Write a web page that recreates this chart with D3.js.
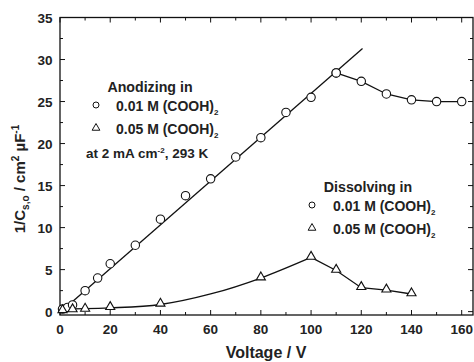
<!DOCTYPE html>
<html>
<head>
<meta charset="utf-8">
<script src="https://cdn.jsdelivr.net/npm/d3@7"></script>
<style>
  body { margin: 0; background: #fff; }
  svg text { font-family: "Liberation Sans", Arial, sans-serif; font-weight: bold; fill: #222; }
</style>
</head>
<body>
<script>
// anodizing in 0.01 M (circles)
const anodV1 = [1, 3, 5, 10, 15, 20, 30, 40, 50, 60, 70, 80, 90, 100, 110];
const anodY1 = [0.3, 0.5, 0.8, 2.5, 4.0, 5.7, 7.9, 11.0, 13.8, 15.8, 18.4, 20.7, 23.7, 25.5, 28.4];
// dissolving in 0.01 M (circles)
const dissV1 = [110, 120, 130, 140, 150, 160];
const dissY1 = [28.4, 27.4, 25.9, 25.2, 25.0, 25.0];
// anodizing in 0.05 M (triangles)
const anodV2 = [1, 5, 10, 20, 40];
const anodY2 = [0.1, 0.2, 0.27, 0.47, 0.87];
// dissolving in 0.05 M (triangles)
const dissV2 = [80, 100, 110, 120, 130, 140];
const dissY2 = [4.0, 6.45, 4.9, 2.85, 2.55, 2.1];
// linear fit (0.01 M) and smooth guide (0.05 M)
const fitV1 = [0, 120.5];
const fitY1 = [-0.1, 31.3];
const fitV2 = [0, 10, 20, 40, 60, 80, 100];
const fitY2 = [0.3, 0.35, 0.45, 0.85, 2.1, 4.0, 6.45];

const xTicks = [0, 20, 40, 60, 80, 100, 120, 140, 160];
const yTicks = [0, 5, 10, 15, 20, 25, 30, 35];

const W = 474, H = 362;
const svg = d3.select("body").append("svg").attr("width", W).attr("height", H);

const x = d3.scaleLinear().domain([0, 164.5]).range([60, 473]);
const y = d3.scaleLinear().domain([-0.4, 35]).range([315, 17.5]);

const zip = (a, b) => a.map((v, i) => [v, b[i]]);

// frame
svg.append("rect")
    .attr("x", x(0)).attr("y", y(35))
    .attr("width", x(164.5) - x(0)).attr("height", y(-0.4) - y(35))
    .attr("fill", "none").attr("stroke", "#111").attr("stroke-width", 1.3);

// ticks (inward) on all four sides
const xMinor = d3.range(10, 170, 20);
const yMinor = d3.range(2.5, 35, 5);
function ticks(vals, len, axis) {
    vals.forEach(v => {
        if (axis === "x") {
            svg.append("line").attr("x1", x(v)).attr("x2", x(v)).attr("y1", y(-0.4)).attr("y2", y(-0.4) - len).attr("stroke", "#111");
            svg.append("line").attr("x1", x(v)).attr("x2", x(v)).attr("y1", y(35)).attr("y2", y(35) + len).attr("stroke", "#111");
        } else {
            svg.append("line").attr("y1", y(v)).attr("y2", y(v)).attr("x1", x(0)).attr("x2", x(0) + len).attr("stroke", "#111");
            svg.append("line").attr("y1", y(v)).attr("y2", y(v)).attr("x1", x(164.5)).attr("x2", x(164.5) - len).attr("stroke", "#111");
        }
    });
}
ticks(xTicks, 5, "x");
ticks(xMinor, 3, "x");
ticks(yTicks.filter(v => v < 35), 5, "y");
ticks(yMinor, 3, "y");

// tick labels
svg.append("g").selectAll("text").data(xTicks).join("text")
    .attr("x", d => x(d)).attr("y", 334)
    .attr("text-anchor", "middle").attr("font-size", 13.5)
    .text(d => d);
svg.append("g").selectAll("text").data(yTicks).join("text")
    .attr("x", 52.5).attr("y", d => y(d) + 5)
    .attr("text-anchor", "end").attr("font-size", 13.5)
    .text(d => d);

// axis titles
svg.append("text").attr("x", 266).attr("y", 358)
    .attr("text-anchor", "middle").attr("font-size", 16)
    .text("Voltage / V");

const yt = svg.append("text")
    .attr("transform", "translate(25,179) rotate(-90)")
    .attr("text-anchor", "middle").attr("font-size", 15);
yt.append("tspan").text("1/C");
yt.append("tspan").attr("dy", 4).attr("font-size", 10).text("s,o");
yt.append("tspan").attr("dy", -4).text(" / cm");
yt.append("tspan").attr("dy", -6).attr("font-size", 10).text("2");
yt.append("tspan").attr("dy", 6).text(" \u00b5F");
yt.append("tspan").attr("dy", -6).attr("font-size", 10).text("-1");

// lines
const line = d3.line().x(d => x(d[0])).y(d => y(d[1]));
const g = svg.append("g").attr("fill", "none").attr("stroke", "#111").attr("stroke-width", 1.3);
g.append("path").attr("d", line(zip(fitV1, fitY1)));
g.append("path").attr("d", line(zip(dissV1, dissY1)));
g.append("path").attr("d", line.curve(d3.curveMonotoneX)(zip(fitV2, fitY2)));
g.append("path").attr("d", d3.line().x(d => x(d[0])).y(d => y(d[1]))(zip(dissV2.slice(1), dissY2.slice(1))));

// markers
const tri = d3.symbol().type(d3.symbolTriangle).size(36);
function circles(vs, ys) {
    svg.append("g").selectAll("circle").data(zip(vs, ys)).join("circle")
        .attr("cx", d => x(d[0])).attr("cy", d => y(d[1])).attr("r", 4.2)
        .attr("fill", "#fff").attr("stroke", "#111").attr("stroke-width", 1.1);
}
function triangles(vs, ys) {
    svg.append("g").selectAll("path").data(zip(vs, ys)).join("path")
        .attr("d", tri).attr("transform", d => `translate(${x(d[0])},${y(d[1]) - 0.8})`)
        .attr("fill", "#fff").attr("stroke", "#111").attr("stroke-width", 1.1);
}
circles(anodV1, anodY1);
circles(dissV1, dissY1);
triangles(anodV2, anodY2);
triangles(dissV2, dissY2);

// legends
function legend(mx, tx0, cx, y0, title, extra) {
    const lg = svg.append("g");
    lg.append("text").attr("x", cx).attr("y", y0).attr("text-anchor", "middle").attr("font-size", 14.2).text(title);
    lg.append("circle").attr("cx", mx).attr("cy", y0 + 13).attr("r", 3).attr("fill", "#fff").attr("stroke", "#111");
    lg.append("path").attr("d", d3.symbol().type(d3.symbolTriangle).size(26))
        .attr("transform", `translate(${mx},${y0 + 36})`).attr("fill", "#fff").attr("stroke", "#111");
    ["0.01 M (COOH)", "0.05 M (COOH)"].forEach((t, i) => {
        const tx = lg.append("text").attr("x", tx0).attr("y", y0 + 19 + i * 23).attr("font-size", 14);
        tx.append("tspan").text(t);
        tx.append("tspan").attr("dy", 4).attr("font-size", 8).text("2");
    });
    if (extra) {
        const tx = lg.append("text").attr("x", 86).attr("y", y0 + 66).attr("font-size", 13.5);
        tx.append("tspan").text("at 2 mA cm");
        tx.append("tspan").attr("dy", -5).attr("font-size", 8).text("-2");
        tx.append("tspan").attr("dy", 5).text(", 293 K");
    }
}
legend(96, 116, 150, 92, "Anodizing in", true);
legend(312, 333, 368, 192, "Dissolving in", false);
</script>
</body>
</html>
